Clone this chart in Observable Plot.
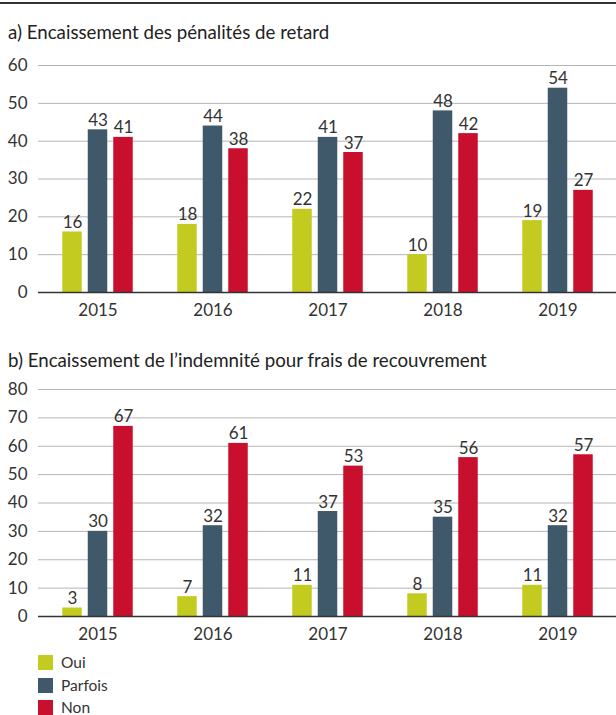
<!DOCTYPE html>
<html><head><meta charset="utf-8">
<script src="https://cdn.jsdelivr.net/npm/d3@7"></script>
<script src="https://cdn.jsdelivr.net/npm/@observablehq/plot@0.6"></script>
<style>
body{margin:0;background:#fff;font-family:Lato,"Liberation Sans",sans-serif;color:#222}
#wrap{position:relative;width:616px;height:715px;overflow:hidden}
.rule{position:absolute;left:0;top:2px;width:616px;height:2px;background:#333}
.title{position:absolute;left:8px;font-size:18.7px;line-height:22px;white-space:nowrap;color:#222}
.chart{position:absolute;left:0}
.leg{position:absolute;left:38px;font-size:15.5px;line-height:15px;color:#333;display:flex;align-items:center}
.leg span.sw{display:inline-block;width:15px;height:15px;margin-right:8px}
</style></head><body><div id="wrap"></div>
<script>
const years = ["2015", "2016", "2017", "2018", "2019"];
const series = ["Oui", "Parfois", "Non"];
const colors = ["#c3cb20", "#3f596b", "#c8102e"];

const titleA = "a) Encaissement des pénalités de retard";
const ouiA = [16, 18, 22, 10, 19];
const parfoisA = [43, 44, 41, 48, 54];
const nonA = [41, 38, 37, 42, 27];
const ticksA = [0, 10, 20, 30, 40, 50, 60];

const titleB = "b) Encaissement de l’indemnité pour frais de recouvrement";
const ouiB = [3, 7, 11, 8, 11];
const parfoisB = [30, 32, 37, 35, 32];
const nonB = [67, 61, 53, 56, 57];
const ticksB = [0, 10, 20, 30, 40, 50, 60, 70, 80];

const NUMFONT = "'Liberation Sans Narrow', 'Arial Narrow', Lato, sans-serif";

function chart(values, ticks) {
  const rows = [];
  series.forEach((s, i) => years.forEach((y, j) => rows.push({year: y, series: s, value: values[i][j]})));
  const offsets = {Oui: -25.5, Parfois: 0, Non: 25.5};
  const marks = [Plot.ruleY(ticks.slice(1), {stroke: "#b5b5b5", strokeWidth: 1})];
  series.forEach(s => {
    const d = rows.filter(r => r.series === s);
    marks.push(Plot.barY(d, {x: "year", y: "value", fill: "series", insetLeft: 47.75, insetRight: 47.75, dx: offsets[s]}));
    marks.push(Plot.text(d, {x: "year", y: "value", text: r => String(r.value), dx: offsets[s], dy: -4, lineAnchor: "bottom", fill: "#333", fontSize: 17}));
  });
  marks.push(Plot.ruleY([0], {stroke: "#333", strokeWidth: 1.5}));
  return Plot.plot({
    width: 616, height: 272, marginTop: 15, marginBottom: 30, marginLeft: 38, marginRight: 0,
    x: {domain: years, padding: 0, label: null, tickSize: 0, tickPadding: 11},
    y: {domain: [0, ticks[ticks.length - 1]], ticks: ticks, label: null, tickSize: 0, tickPadding: 11},
    color: {domain: series, range: colors},
    style: {fontFamily: NUMFONT, fontSize: "17px", color: "#333", background: "transparent", overflow: "visible"},
    marks
  });
}

const wrap = document.getElementById("wrap");
const rule = document.createElement("div"); rule.className = "rule"; wrap.appendChild(rule);

function addTitle(text, top) {
  const t = document.createElement("div"); t.className = "title"; t.style.top = top + "px"; t.textContent = text; wrap.appendChild(t);
}
function addChart(svg, top) {
  const c = document.createElement("div"); c.className = "chart"; c.style.top = top + "px"; c.appendChild(svg); wrap.appendChild(c);
}
addTitle(titleA, 21);
addChart(chart([ouiA, parfoisA, nonA], ticksA), 50);
addTitle(titleB, 349);
addChart(chart([ouiB, parfoisB, nonB], ticksB), 374);

series.forEach((s, i) => {
  const l = document.createElement("div"); l.className = "leg"; l.style.top = (655 + i * 22.5) + "px";
  const sw = document.createElement("span"); sw.className = "sw"; sw.style.background = colors[i];
  l.appendChild(sw); l.appendChild(document.createTextNode(s)); wrap.appendChild(l);
});
</script></body></html>
